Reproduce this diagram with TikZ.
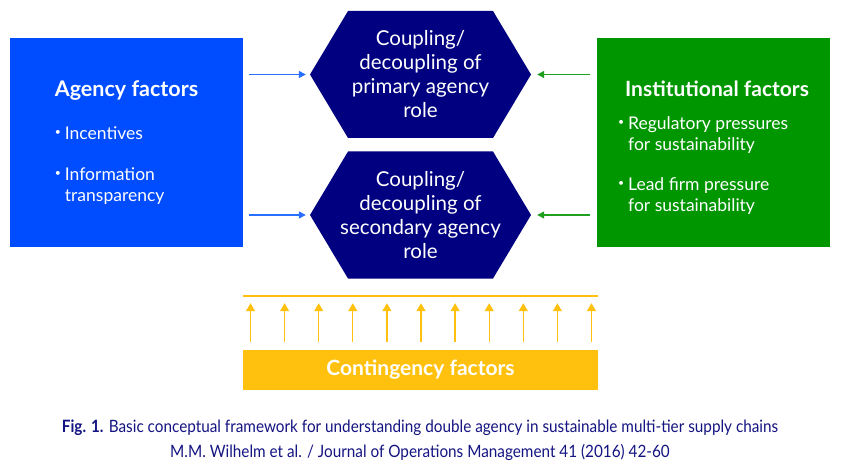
\documentclass[tikz,border=0pt]{standalone}
\usepackage{fontspec}
\setmainfont{Lato}
\newfontfamily\capfont[FakeStretch=0.9]{Lato}
\usetikzlibrary{arrows.meta}
\definecolor{agencyblue}{RGB}{0,76,255}
\definecolor{instgreen}{RGB}{0,150,0}
\definecolor{rolenavy}{RGB}{0,0,128}
\definecolor{contyellow}{RGB}{255,193,14}
\definecolor{arrowblue}{RGB}{40,110,255}
\definecolor{arrowgreen}{RGB}{30,160,30}
\definecolor{capnavy}{RGB}{20,20,130}
\newcommand{\dotmark}{\raisebox{0.45ex}{\scalebox{0.6}{\textbullet}}\hspace{4pt}}
\tikzset{
    factor/.style = {rectangle, minimum width=233pt, minimum height=209pt, inner sep=0pt, align=left, text=white, font=\fontsize{17.5}{21}\selectfont},
    hexa/.style = {rectangle, minimum width=221pt, minimum height=127pt, inner sep=0pt, align=center, text=white, font=\fontsize{20.5}{24}\selectfont,
        path picture={\fill[rolenavy] (path picture bounding box.west) -- ([xshift=38pt]path picture bounding box.north west) -- ([xshift=-38pt]path picture bounding box.north east) -- (path picture bounding box.east) -- ([xshift=-38pt]path picture bounding box.south east) -- ([xshift=38pt]path picture bounding box.south west) -- cycle;}},
    rail/.style = {rectangle, fill=contyellow, minimum width=355pt, minimum height=2pt, inner sep=0pt},
    contbox/.style = {rectangle, fill=contyellow, minimum width=355pt, minimum height=40pt, inner sep=0pt, text=white, font=\fontsize{21}{24}\selectfont\bfseries},
    caption/.style = {inner sep=0pt, text=capnavy, font=\capfont\fontsize{17}{20}\selectfont}
}
\begin{document}
\begin{tikzpicture}[x=1pt, y=-1pt,
                    agencyarrow/.style={draw=arrowblue, line width=1.3pt, -{Triangle[length=7pt,width=7pt]}, shorten <=6pt, shorten >=4pt},
                    instarrow/.style={draw=arrowgreen, line width=1.3pt, -{Triangle[length=7pt,width=7pt]}, shorten <=7pt, shorten >=6pt},
                    contarrow/.style={draw=contyellow, line width=1.3pt, -{Triangle[length=8pt,width=9pt]}, shorten <=8pt, shorten >=6pt}]
    \useasboundingbox (0,0) rectangle (843,473);
    % factor boxes
    \node [factor, fill=agencyblue] (agency) at (126.5,142.5)
        {{\fontsize{21.5}{22}\selectfont\bfseries Agency factors}\\[22pt]
         \dotmark Incentives\\[20pt]
         \dotmark Information\\
         \phantom{\dotmark}transparency};
    \node [factor, fill=instgreen] (institution) at (713.5,142.5)
        {{\fontsize{21}{22}\selectfont\bfseries\hspace{7pt}Institutional factors\rule{0pt}{26pt}}\\[12pt]
         \dotmark Regulatory pressures\\
         \phantom{\dotmark}for sustainability\\[19pt]
         \dotmark Lead firm pressure\\
         \phantom{\dotmark}for sustainability};
    % agency roles
    \node [hexa] (primary) at (420.5,74.5) {Coupling/\\decoupling of\\primary agency\\role};
    \node [hexa] (secondary) at (420.5,215) {Coupling/\\decoupling of\\secondary agency\\role};
    \draw [agencyarrow] (agency.east |- primary.west) -- (primary.west);
    \draw [agencyarrow] (agency.east |- secondary.west) -- (secondary.west);
    \draw [instarrow] (institution.west |- primary.east) -- (primary.east);
    \draw [instarrow] (institution.west |- secondary.east) -- (secondary.east);
    % contingency
    \node [rail] (rail) at (420.5,296) {};
    \node [contbox] (cont) at (420.5,370) {Contingency factors};
    \foreach \k in {0,...,10}
        \draw [contarrow] ([xshift={7.7pt+\k*34.1pt}]cont.north west) -- ([xshift={7.7pt+\k*34.1pt}]rail.south west);
    % caption
    \node [caption] (figline) at (420,428) {\textbf{Fig. 1.} Basic conceptual framework for understanding double agency in sustainable multi-tier supply chains};
    \node [caption] (refline) at (420,452) {M.M. Wilhelm et al. / Journal of Operations Management 41 (2016) 42-60};
\end{tikzpicture}
\end{document}
